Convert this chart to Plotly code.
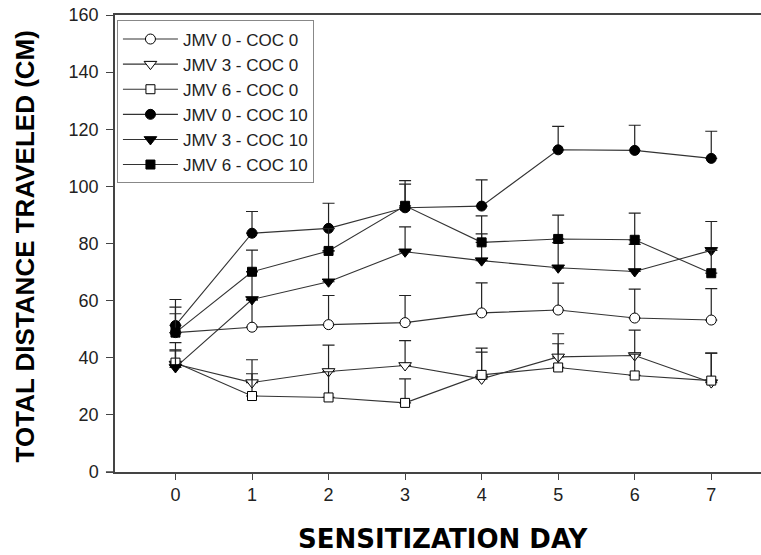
import plotly.graph_objects as go

days = [0, 1, 2, 3, 4, 5, 6, 7]

jmv0_coc0 = [48.8, 50.7, 51.6, 52.3, 55.7, 56.7, 53.9, 53.2]
jmv0_coc0_err = [6.6, 9.5, 10.2, 9.5, 10.5, 9.4, 10.1, 11.0]
jmv3_coc0 = [37.8, 31.3, 35.2, 37.3, 32.6, 40.3, 40.8, 31.3]
jmv3_coc0_err = [5.0, 8.0, 9.2, 8.7, 9.4, 8.1, 8.9, 10.3]
jmv6_coc0 = [38.3, 26.6, 26.1, 24.2, 34.0, 36.6, 33.8, 32.0]
jmv6_coc0_err = [7.0, 7.8, 9.0, 8.4, 9.4, 8.3, 7.5, 9.6]
jmv0_coc10 = [51.3, 83.6, 85.3, 92.5, 93.1, 112.8, 112.6, 109.8]
jmv0_coc10_err = [9.1, 7.6, 8.8, 9.5, 9.2, 8.2, 8.8, 9.5]
jmv3_coc10 = [36.6, 60.4, 66.6, 77.1, 74.0, 71.5, 70.2, 77.6]
jmv3_coc10_err = [5.8, 9.8, 10.8, 8.7, 9.4, 8.8, 9.5, 10.1]
jmv6_coc10 = [48.8, 70.1, 77.4, 93.2, 80.4, 81.6, 81.3, 69.6]
jmv6_coc10_err = [8.9, 7.6, 7.8, 7.6, 9.3, 8.3, 9.3, 8.0]

y_ticks = [0, 20, 40, 60, 80, 100, 120, 140, 160]

series = [
    ("JMV 0 - COC 0", jmv0_coc0, jmv0_coc0_err, "circle-open", 10),
    ("JMV 3 - COC 0", jmv3_coc0, jmv3_coc0_err, "triangle-down-open", 11),
    ("JMV 6 - COC 0", jmv6_coc0, jmv6_coc0_err, "square-open", 9),
    ("JMV 0 - COC 10", jmv0_coc10, jmv0_coc10_err, "circle", 10),
    ("JMV 3 - COC 10", jmv3_coc10, jmv3_coc10_err, "triangle-down", 11),
    ("JMV 6 - COC 10", jmv6_coc10, jmv6_coc10_err, "square", 9),
]

fig = go.Figure()
for name, vals, errs, sym, size in series:
    filled = not sym.endswith("-open")
    base = sym.replace("-open", "")
    fig.add_trace(go.Scatter(
        x=days, y=vals, name=name, mode="lines+markers",
        line=dict(color="#333333", width=1.1),
        marker=dict(symbol=base, size=size,
                    color="black" if filled else "white",
                    line=dict(color="black", width=1)),
        error_y=dict(type="data", array=errs, arrayminus=[0] * len(errs),
                     symmetric=False, color="#222222", thickness=1.2, width=6),
    ))

fig.update_layout(
    width=761, height=555,
    margin=dict(l=115, r=0, t=15, b=83),
    plot_bgcolor="white", paper_bgcolor="white",
    font=dict(family="Liberation Sans, Arial, sans-serif", size=18, color="#222222"),
    showlegend=True,
    legend=dict(x=0.003, y=0.988, xanchor="left", yanchor="top",
                bordercolor="#888888", borderwidth=1, bgcolor="white",
                itemwidth=55,
                font=dict(size=17, color="#222222")),
    xaxis=dict(range=[-0.79, 7.65], tickvals=days, ticktext=[str(d) for d in days],
               showline=True, linecolor="#444444", linewidth=1.5, mirror=True,
               ticks="outside", ticklen=6, tickcolor="#444444", showgrid=False, zeroline=False),
    yaxis=dict(range=[0, 160], tickvals=y_ticks,
               showline=True, linecolor="#444444", linewidth=1.5,
               ticks="outside", ticklen=7, tickcolor="#444444", showgrid=False, zeroline=False,
               ticklabelstandoff=4),
)
fig.add_annotation(text="<b>SENSITIZATION DAY</b>", xref="paper", yref="paper",
                   x=0.509, y=-0.147, xanchor="center", yanchor="middle", showarrow=False,
                   font=dict(family="DejaVu Sans, sans-serif", size=26, color="black"))
fig.add_annotation(text="<b>TOTAL DISTANCE TRAVELED (CM)</b>", xref="paper", yref="paper",
                   x=-0.139, y=0.494, xanchor="center", yanchor="middle", showarrow=False,
                   textangle=-90,
                   font=dict(family="Liberation Sans, Arial, sans-serif", size=26, color="black"))
fig.add_shape(type="line", xref="paper", yref="paper", x0=-0.014, x1=0, y0=0, y1=0,
              line=dict(color="#444444", width=1.5))

fig.write_html("out.html")
